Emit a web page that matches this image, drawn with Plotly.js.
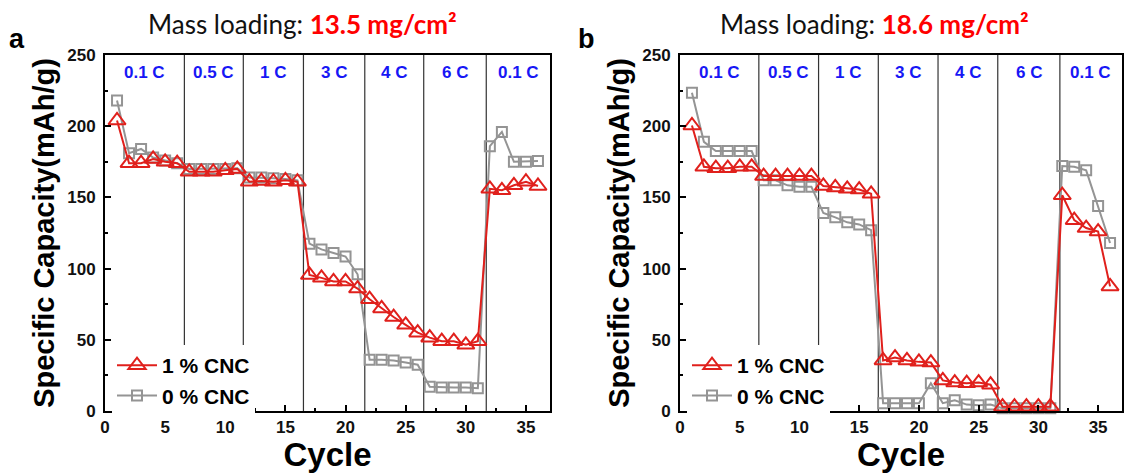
<!DOCTYPE html>
<html>
<head>
<meta charset="utf-8">
<script src="https://cdn.plot.ly/plotly-3.0.1.min.js"></script>
<style>html,body{margin:0;padding:0;background:#fff;}#chart{width:1124px;height:473px;}</style>
</head>
<body>
<div id="chart"></div>
<script>
// ---- data ----
const cycles = [1,2,3,4,5,6,7,8,9,10,11,12,13,14,15,16,17,18,19,20,21,22,23,24,25,26,27,28,29,30,31,32,33,34,35,36];
const cnc1_a = [204,174,174,177,175,174,168,168,168,169,170,161,161.5,161,162,161,95.5,93.5,91,91,86,78.5,72,66,60.5,55,51.5,49,49,46.5,49,156,155,158.5,161,158];
const cnc0_a = [218,181,184,178,176,174,170,170,170,170,170.5,164,164,163.5,163,162,117.5,113.5,111,108.5,96,36,36,35.5,34,32.5,17,16.5,16.5,16.5,16,186,196,175,175,175.5];
const cnc1_b = [200.5,171.5,170.5,170.5,171.5,171.5,165,165,165,165,165,158,157,156,155.5,152.5,35.5,37.5,35.5,34.5,34,21.5,20,19.5,20,18.5,3,3,3,3,3,151.5,134,128.5,126,87.5];
const cnc0_b = [223.5,189,182.5,182.5,182.5,182.5,162,162,158.5,157.5,157.5,139,136,132.5,131,127,5.5,5.5,5.5,5.5,19.5,5.5,7.5,4.5,4,4.5,2,2,2,2,2,172,171.5,169,144,118];
const rateLabels = ["0.1 C","0.5 C","1 C","3 C","4 C","6 C","0.1 C"];
const dividers_a = [6.6,11.5,16.5,21.6,26.5,31.7];
const dividers_b = [6.6,11.6,16.6,21.6,26.6,31.8];
const seriesNames = ["1 % CNC","0 % CNC"];
const loadings = ["13.5","18.6"];
const panelLetters = ["a","b"];
const xRange = [0,37], yRange = [0,250];

// ---- style ----
const FONT = "Liberation Sans, Arial, sans-serif";
const RED = "#e0201c", GRAY = "#949494", BLUE = "#1717f5";
const W = 1124, H = 473;
const px = v => v / W, py = v => 1 - v / H;

function traceRed(y, xa, ya, lg){
  return {x: cycles, y: y, xaxis: xa, yaxis: ya, legend: lg, name: seriesNames[0], type:'scatter', mode:'lines+markers',
    cliponaxis:false, line:{color:RED, width:2},
    marker:{symbol:'triangle-up-open', size:15, color:RED, line:{width:2, color:RED}}};
}
function traceGray(y, xa, ya, lg){
  return {x: cycles, y: y, xaxis: xa, yaxis: ya, legend: lg, name: seriesNames[1], type:'scatter', mode:'lines+markers',
    cliponaxis:false, line:{color:GRAY, width:2},
    marker:{symbol:'square-open', size:10, color:GRAY, line:{width:2, color:GRAY}}};
}
const data = [
  traceGray(cnc0_a,'x','y','legend'), traceRed(cnc1_a,'x','y','legend'),
  traceGray(cnc0_b,'x2','y2','legend2'), traceRed(cnc1_b,'x2','y2','legend2')
];

function xax(domain){
  return {domain: domain, range: xRange, dtick:5, tick0:0, ticks:'inside', ticklen:6, tickwidth:2, tickcolor:'#000',
    minor:{ticks:'inside', ticklen:3, tickwidth:2, dtick:2.5, tick0:0, tickcolor:'#000'},
    showline:true, linewidth:2, linecolor:'#000', mirror:true, showgrid:false, zeroline:false,
    tickfont:{family:FONT, size:17, weight:700, color:'#111'}, ticklabelstandoff:0,
    title:{text:'Cycle', font:{family:FONT, size:33, weight:700, color:'#000'}, standoff:5}, automargin:false, fixedrange:true};
}
function yax(anchor){
  return {domain:[1-411/H, 1-55/H], anchor: anchor, range: yRange, dtick:50, tick0:0, ticks:'inside', ticklen:6, tickwidth:2, tickcolor:'#000',
    minor:{ticks:'inside', ticklen:3, tickwidth:2, dtick:25, tick0:0, tickcolor:'#000'},
    showline:true, linewidth:2, linecolor:'#000', mirror:true, showgrid:false, zeroline:false,
    tickfont:{family:FONT, size:17, weight:700, color:'#111'}, ticklabelstandoff:4,
    title:{text:'Specific Capacity(mAh/g)', font:{family:FONT, size:29, weight:700, color:'#000'}, standoff:4}, automargin:false, fixedrange:true};
}

const shapes = [];
dividers_a.forEach(d => shapes.push({type:'line', xref:'x', yref:'y domain', x0:d, x1:d, y0:0, y1:1, line:{color:'#333', width:1.2}, layer:'below'}));
dividers_b.forEach(d => shapes.push({type:'line', xref:'x2', yref:'y2 domain', x0:d, x1:d, y0:0, y1:1, line:{color:'#333', width:1.2}, layer:'below'}));

function mids(divs){
  const b = [xRange[0]].concat(divs, [xRange[1]]);
  return rateLabels.map((_, i) => (b[i] + b[i+1]) / 2);
}
const annotations = [];
[[dividers_a,'x','y'],[dividers_b,'x2','y2']].forEach(([divs, xr, yr]) => {
  mids(divs).forEach((m, i) => annotations.push({xref:xr, yref:yr, x:m, y:238, text:rateLabels[i], showarrow:false,
    font:{family:FONT, size:17, weight:700, color:BLUE}, xanchor:'center', yanchor:'middle'}));
});
const titleX = [302, 874];
loadings.forEach((l, i) => annotations.push({xref:'paper', yref:'paper', x:px(titleX[i]), y:py(24), xanchor:'center', yanchor:'middle', showarrow:false,
  text:'Mass loading: <b><span style="color:#ff0000">' + l + ' mg/cm²</span></b>',
  font:{family:'Lato, Carlito, sans-serif', size:26, color:'#111'}}));
const letterX = [17, 586];
panelLetters.forEach((t, i) => annotations.push({xref:'paper', yref:'paper', x:px(letterX[i]), y:py(39), xanchor:'center', yanchor:'middle', showarrow:false,
  text:'<b>' + t + '</b>', font:{family:FONT, size:27, color:'#000'}}));

function legendAt(xpx){
  return {x:px(xpx), y:py(345), xanchor:'left', yanchor:'top', bgcolor:'#ffffff', borderwidth:0,
    font:{family:FONT, size:21, weight:700, color:'#000'}, traceorder:'reversed', itemwidth:40, tracegroupgap:0};
}

const layout = {
  width:W, height:H, margin:{l:0, r:0, t:0, b:0}, paper_bgcolor:'#fff', plot_bgcolor:'#fff', showlegend:true,
  xaxis: Object.assign(xax([105/W, 550/W]), {anchor:'y'}),
  yaxis: yax('x'),
  xaxis2: Object.assign(xax([680/W, 1122/W]), {anchor:'y2'}),
  yaxis2: yax('x2'),
  legend: legendAt(112), legend2: legendAt(687),
  shapes: shapes, annotations: annotations
};
Plotly.newPlot('chart', data, layout, {staticPlot:true, displayModeBar:false});
</script>
</body>
</html>
